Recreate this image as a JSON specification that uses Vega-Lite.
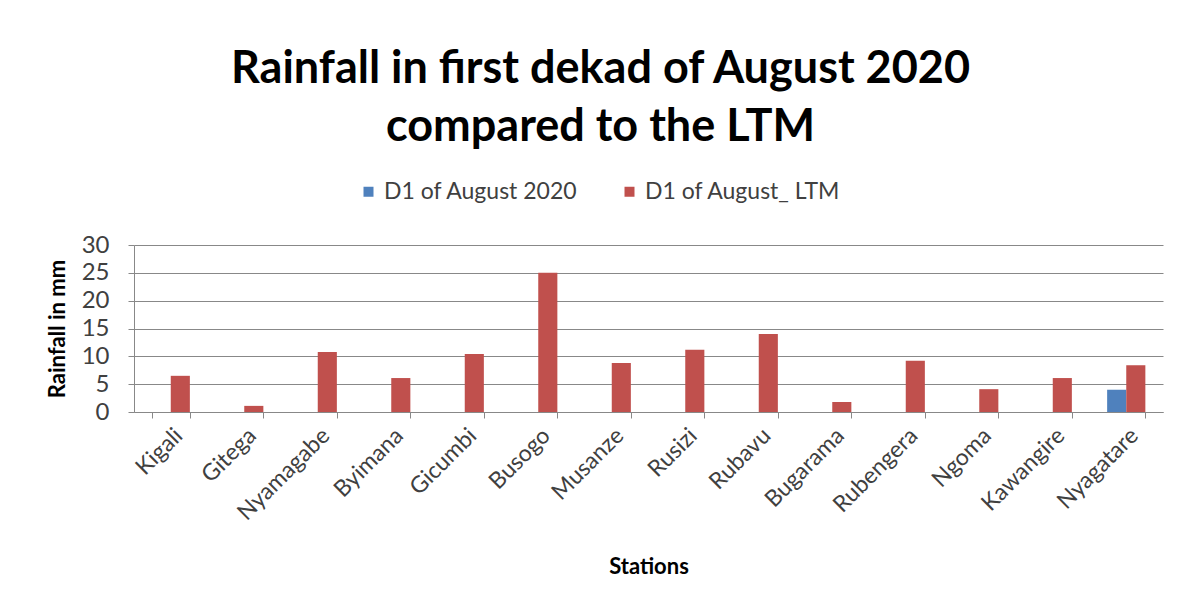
{
  "$schema": "https://vega.github.io/schema/vega-lite/v6.json",
  "width": 1029,
  "height": 167,
  "autosize": {"type": "none"},
  "padding": {"left": 134, "top": 245, "right": 19, "bottom": 197},
  "background": "white",
  "title": {
    "text": ["Rainfall in first dekad of August 2020", "compared to the LTM"],
    "font": "Lato",
    "fontSize": 45,
    "fontWeight": "bold",
    "color": "#000000",
    "lineHeight": 58,
    "anchor": "middle",
    "dx": -48,
    "offset": 30
  },
  "data": {
    "values": [
      {"station": "Kigali", "series": "D1 of August 2020", "value": 0},
      {"station": "Kigali", "series": "D1 of August_ LTM", "value": 6.5},
      {"station": "Gitega", "series": "D1 of August 2020", "value": 0},
      {"station": "Gitega", "series": "D1 of August_ LTM", "value": 1.1},
      {"station": "Nyamagabe", "series": "D1 of August 2020", "value": 0},
      {"station": "Nyamagabe", "series": "D1 of August_ LTM", "value": 10.8},
      {"station": "Byimana", "series": "D1 of August 2020", "value": 0},
      {"station": "Byimana", "series": "D1 of August_ LTM", "value": 6.1},
      {"station": "Gicumbi", "series": "D1 of August 2020", "value": 0},
      {"station": "Gicumbi", "series": "D1 of August_ LTM", "value": 10.4},
      {"station": "Busogo", "series": "D1 of August 2020", "value": 0},
      {"station": "Busogo", "series": "D1 of August_ LTM", "value": 25},
      {"station": "Musanze", "series": "D1 of August 2020", "value": 0},
      {"station": "Musanze", "series": "D1 of August_ LTM", "value": 8.8},
      {"station": "Rusizi", "series": "D1 of August 2020", "value": 0},
      {"station": "Rusizi", "series": "D1 of August_ LTM", "value": 11.2},
      {"station": "Rubavu", "series": "D1 of August 2020", "value": 0},
      {"station": "Rubavu", "series": "D1 of August_ LTM", "value": 14},
      {"station": "Bugarama", "series": "D1 of August 2020", "value": 0},
      {"station": "Bugarama", "series": "D1 of August_ LTM", "value": 1.8},
      {"station": "Rubengera", "series": "D1 of August 2020", "value": 0},
      {"station": "Rubengera", "series": "D1 of August_ LTM", "value": 9.2},
      {"station": "Ngoma", "series": "D1 of August 2020", "value": 0},
      {"station": "Ngoma", "series": "D1 of August_ LTM", "value": 4.1},
      {"station": "Kawangire", "series": "D1 of August 2020", "value": 0},
      {"station": "Kawangire", "series": "D1 of August_ LTM", "value": 6.1},
      {"station": "Nyagatare", "series": "D1 of August 2020", "value": 4.0},
      {"station": "Nyagatare", "series": "D1 of August_ LTM", "value": 8.4}
    ]
  },
  "mark": {"type": "bar"},
  "encoding": {
    "x": {
      "field": "station",
      "type": "nominal",
      "sort": ["Kigali", "Gitega", "Nyamagabe", "Byimana", "Gicumbi", "Busogo", "Musanze", "Rusizi", "Rubavu", "Bugarama", "Rubengera", "Ngoma", "Kawangire", "Nyagatare"],
      "scale": {"paddingInner": 0.48, "paddingOuter": 0.24},
      "axis": {
        "title": "Stations",
        "titleFont": "Lato",
        "titleFontSize": 22,
        "titleFontWeight": "bold",
        "titleColor": "#000000",
        "titlePadding": 32,
        "labelAngle": -45,
        "labelFont": "Lato",
        "labelFontSize": 23,
        "labelColor": "#404040",
        "labelPadding": 6,
        "tickBand": "extent",
        "tickSize": 6,
        "tickColor": "#888888",
        "domainColor": "#888888",
        "grid": false
      }
    },
    "xOffset": {"field": "series", "sort": ["D1 of August 2020", "D1 of August_ LTM"]},
    "y": {
      "field": "value",
      "type": "quantitative",
      "scale": {"domain": [0, 30]},
      "axis": {
        "title": "Rainfall in mm",
        "titleFont": "Lato",
        "titleFontSize": 22,
        "titleFontWeight": "bold",
        "titleColor": "#000000",
        "titlePadding": 12,
        "values": [0, 5, 10, 15, 20, 25, 30],
        "labelFont": "Lato",
        "labelFontSize": 24,
        "labelColor": "#404040",
        "labelPadding": 19,
        "tickSize": 6,
        "tickColor": "#888888",
        "domainColor": "#888888",
        "gridColor": "#888888"
      }
    },
    "color": {
      "field": "series",
      "type": "nominal",
      "scale": {"domain": ["D1 of August 2020", "D1 of August_ LTM"], "range": ["#4F81BD", "#C0504D"]},
      "legend": {
        "orient": "none",
        "legendX": 223,
        "legendY": -65,
        "direction": "horizontal",
        "title": null,
        "symbolType": "square",
        "symbolSize": 100,
        "symbolStrokeWidth": 0,
        "labelFont": "Lato",
        "labelFontSize": 23,
        "labelLimit": 400,
        "labelColor": "#404040",
        "columnPadding": 40
      }
    }
  },
  "config": {"view": {"stroke": null}}
}
